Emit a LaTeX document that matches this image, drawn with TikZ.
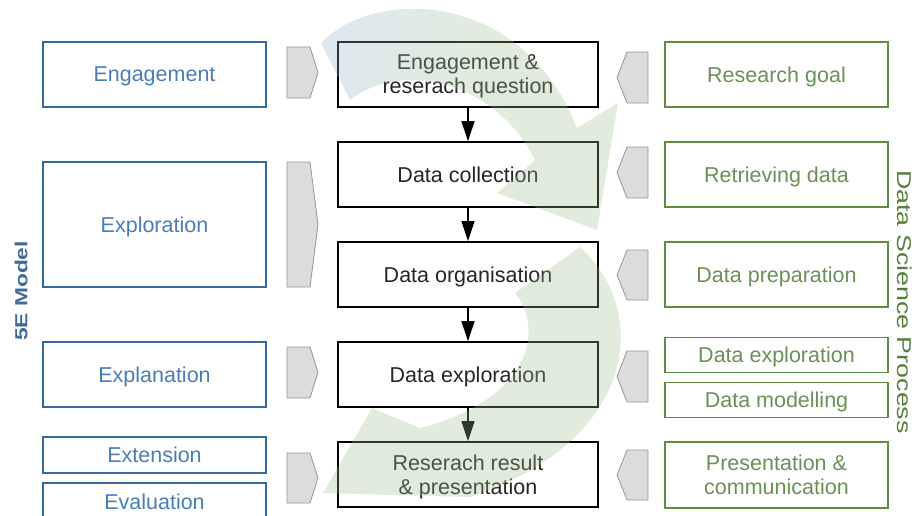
\documentclass[tikz,border=0pt]{standalone}
\usepackage{fontspec}
\setmainfont{Liberation Sans}
\usetikzlibrary{arrows.meta}
\definecolor{bluebd}{RGB}{54,104,160}
\definecolor{bluetx}{RGB}{75,125,180}
\definecolor{greenbd}{RGB}{95,140,65}
\definecolor{greentx}{RGB}{105,145,85}
\definecolor{chevfill}{RGB}{220,220,220}
\definecolor{chevbd}{RGB}{150,150,150}
\definecolor{arrgreen}{RGB}{158,192,138}
\definecolor{arrblue}{RGB}{145,178,205}
\tikzset{
  txt/.style={font=\fontsize{21.5}{24}\selectfont, align=center, inner sep=0pt, text depth=0pt},
  leftbox/.style={txt, draw=bluebd, line width=1.6pt, text=bluetx, minimum width=223pt},
  midbox/.style={txt, draw=black, line width=1.8pt, text=black!85, fill=white, minimum width=260pt, minimum height=65pt},
  rightbox/.style={txt, draw=greenbd, line width=1.6pt, text=greentx, minimum width=223pt},
  chev/.style={draw=chevbd, fill=chevfill, line width=0.8pt, line join=round},
  flow/.style={line width=1.2pt, -{Triangle[width=13pt,length=20pt]}},
  bigarrow/.style={draw=none, fill opacity=0.3}
}
\begin{document}
\begin{tikzpicture}[x=1pt,y=-1pt]
\useasboundingbox (0,0) rectangle (917,515);
% left 5E boxes
\node[leftbox, minimum height=65pt]  (engL)  at (154.5,74.5)  {Engagement};
\node[leftbox, minimum height=125pt] (explo) at (154.5,224.5) {Exploration};
\node[leftbox, minimum height=65pt]  (expla) at (154.5,374.5) {Explanation};
\node[leftbox, minimum height=36pt]  (ext)   at (154.5,455)   {Extension};
\node[leftbox, minimum height=37pt]  (eval)  at (154.5,501.5) {Evaluation};
% centre boxes
\node[midbox] (c1) at (468,74.5)  {Engagement \&\\reserach question};
\node[midbox] (c2) at (468,174.5) {Data collection};
\node[midbox] (c3) at (468,274.5) {Data organisation};
\node[midbox] (c4) at (468,374.5) {Data exploration};
\node[midbox] (c5) at (468,474.5) {Reserach result\\\& presentation};
\draw[flow] (c1) -- (c2);
\draw[flow] (c2) -- (c3);
\draw[flow] (c3) -- (c4);
\draw[flow] (c4) -- (c5);
% right boxes
\node[rightbox, minimum height=65pt] (r1) at (776.5,74.5)  {Research goal};
\node[rightbox, minimum height=65pt] (r2) at (776.5,174.5) {Retrieving data};
\node[rightbox, minimum height=65pt] (r3) at (776.5,274.5) {Data preparation};
\node[rightbox, minimum height=35pt] (r4) at (776.5,355)   {Data exploration};
\node[rightbox, minimum height=35pt] (r5) at (776.5,400)   {Data modelling};
\node[rightbox, minimum height=66pt] (r6) at (776.5,475)   {Presentation \&\\communication};
% left chevrons (pointing right)
\draw[chev] (287,47) -- (310,47) -- (318,72.5) -- (310,98) -- (287,98) -- cycle;
\draw[chev] (287,162) -- (310,162) -- (318,224.5) -- (310,287) -- (287,287) -- cycle;
\draw[chev] (287,347) -- (310,347) -- (318,372.5) -- (310,398) -- (287,398) -- cycle;
\draw[chev] (287,453) -- (310,453) -- (318,478) -- (310,503) -- (287,503) -- cycle;
% right chevrons (pointing left)
\draw[chev] (648,52) -- (627,52) -- (617,77.5) -- (627,103) -- (648,103) -- cycle;
\draw[chev] (648,147) -- (627,147) -- (617,172.5) -- (627,198) -- (648,198) -- cycle;
\draw[chev] (648,250) -- (627,250) -- (617,275) -- (627,300) -- (648,300) -- cycle;
\draw[chev] (648,351) -- (627,351) -- (617,376.5) -- (627,402) -- (648,402) -- cycle;
\draw[chev] (648,450) -- (627,450) -- (617,475) -- (627,500) -- (648,500) -- cycle;
% side labels
\node[rotate=90, text=bluetx!85!black, font=\bfseries\fontsize{17.5}{17.5}\selectfont, inner sep=0pt] (fiveE) at (21,291) {\scalebox{1.3}[1]{5E Model}};
\node[rotate=-90, text=greenbd!90!black, font=\fontsize{20}{20}\selectfont, inner sep=0pt] (dsp) at (905,302) {\scalebox{1.34}[1]{Data Science Process}};
% big translucent curved arrows
\begin{scope}
\clip (321,43) .. controls (370,-10) and (520,-15) .. (577,128) -- (618,103) -- (597,230) -- (497,193) -- (535,160)
  .. controls (495,80) and (400,60) .. (350,100) -- cycle;
\foreach \i in {0,...,14} {
  \pgfmathsetmacro{\pct}{max(0,100-\i*12)}
  \fill[bigarrow, fill=arrblue!\pct!arrgreen] (318+\i*20,-5) rectangle (338+\i*20,240);
}
\end{scope}
\fill[bigarrow, fill=arrgreen]
  (580,247) .. controls (650,310) and (640,440) .. (470,497) -- (323,493) -- (372,408) -- (420,428)
  .. controls (530,400) and (545,330) .. (515,293) -- cycle;
\end{tikzpicture}
\end{document}
